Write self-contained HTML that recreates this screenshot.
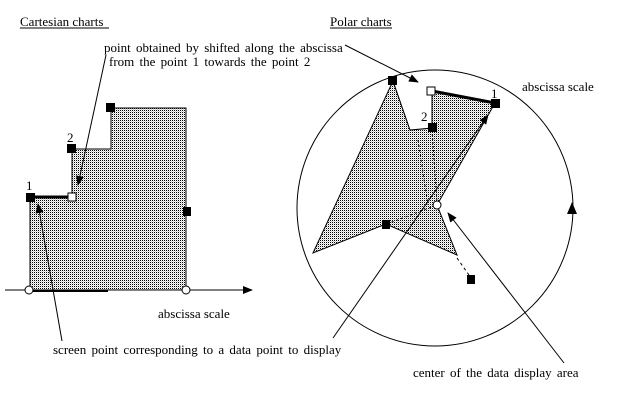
<!DOCTYPE html>
<html><head><meta charset="utf-8"><style>
body{margin:0;background:#fff}
svg{display:block}
text{font-family:"Liberation Serif",serif;font-size:13px;fill:#000}
</style></head><body>
<svg width="620" height="401" viewBox="0 0 620 401" xmlns="http://www.w3.org/2000/svg">
<defs>
<pattern id="d" width="2" height="2" patternUnits="userSpaceOnUse"><rect width="2" height="2" fill="#fff"/><rect width="1" height="1" fill="#000"/><rect x="1" y="1" width="1" height="1" fill="#ccc"/></pattern>
<marker id="a" markerWidth="10" markerHeight="8" refX="9" refY="4" orient="auto" markerUnits="userSpaceOnUse"><path d="M0,0L10,4L0,8z" fill="#000"/></marker>
</defs>
<text x="20" y="26">Cartesian charts</text>
<line x1="20" y1="28" x2="109" y2="28" stroke="#000" stroke-width="1"/>
<text x="330" y="26">Polar charts</text>
<line x1="330" y1="28" x2="392" y2="28" stroke="#000" stroke-width="1"/>

<path d="M30,197 L72,197 L72,149 L111,149 L111,108 L186,108 L186,290 L30,290 Z" fill="url(#d)" stroke="none"/>
<path d="M72,197 L72,149 L111,149 L111,108 L186,108 L186,290" fill="none" stroke="#000"/>
<line x1="30" y1="197" x2="30" y2="290" stroke="#000"/>
<line x1="30" y1="197" x2="72" y2="197" stroke="#000" stroke-width="3"/>
<line x1="5" y1="290" x2="252" y2="290" stroke="#000" marker-end="url(#a)"/>
<line x1="30" y1="291" x2="108" y2="291" stroke="#000" stroke-width="2"/>
<rect x="106" y="103" width="9" height="9" fill="#000"/>
<rect x="67" y="144" width="9" height="9" fill="#000"/>
<rect x="26" y="193" width="9" height="9" fill="#000"/>
<rect x="68" y="193" width="8" height="8" fill="#fff" stroke="#000"/>
<rect x="183" y="207" width="8" height="9" fill="#000"/>
<circle cx="29" cy="290" r="4" fill="#fff" stroke="#000"/>
<circle cx="186" cy="290" r="4" fill="#fff" stroke="#000"/>
<text x="67" y="142">2</text>
<text x="26" y="190">1</text>
<text x="158" y="318">abscissa scale</text>
<line x1="106" y1="55" x2="78" y2="185" stroke="#000" marker-end="url(#a)"/>
<line x1="62" y1="341" x2="38" y2="204" stroke="#000" marker-end="url(#a)"/>
<text x="104" y="52" style="word-spacing:2px">point obtained by shifted along the abscissa</text>
<text x="109" y="66" style="word-spacing:2px">from the point 1 towards the point 2</text>
<text x="53" y="354" style="word-spacing:2px">screen point corresponding to a data point to display</text>

<circle cx="435" cy="208" r="138" fill="none" stroke="#000"/>
<path d="M567,214 L577,214 L572,202 Z" fill="#000"/>
<path d="M393,81 L410,130 L432,128 L432,91 L495,103 L437,205 L457,255 L386,224 L313,253 Z" fill="url(#d)" stroke="#000"/>
<path d="M432,91 L432,128 L410,130 L393,81" fill="#fff" stroke="#000"/>
<line x1="432" y1="91" x2="495" y2="103" stroke="#000" stroke-width="3"/>
<line x1="432" y1="130" x2="437" y2="203" stroke="#000" stroke-dasharray="2,2"/>
<line x1="418" y1="140" x2="428" y2="205" stroke="#000" stroke-dasharray="2,3"/>
<line x1="387" y1="224" x2="437" y2="205" stroke="#000" stroke-dasharray="2,3"/>
<line x1="457" y1="258" x2="469" y2="275" stroke="#000" stroke-dasharray="3,3"/>
<rect x="388" y="76" width="9" height="9" fill="#000"/>
<rect x="427" y="87" width="8" height="8" fill="#fff" stroke="#000"/>
<rect x="491" y="99" width="9" height="9" fill="#000"/>
<rect x="428" y="123" width="9" height="9" fill="#000"/>
<rect x="382" y="220" width="8" height="9" fill="#000"/>
<rect x="467" y="275" width="8" height="9" fill="#000"/>
<circle cx="437" cy="205" r="4" fill="#fff" stroke="#000"/>
<text x="491" y="98">1</text>
<text x="421" y="121">2</text>
<text x="522" y="91">abscissa scale</text>
<line x1="345" y1="45" x2="418" y2="82" stroke="#000" marker-end="url(#a)"/>
<line x1="333" y1="338" x2="488" y2="115" stroke="#000" marker-end="url(#a)"/>
<line x1="564" y1="363" x2="448" y2="213" stroke="#000" marker-end="url(#a)"/>
<text x="413" y="377" style="word-spacing:2px">center of the data display area</text>
</svg>
</body></html>
